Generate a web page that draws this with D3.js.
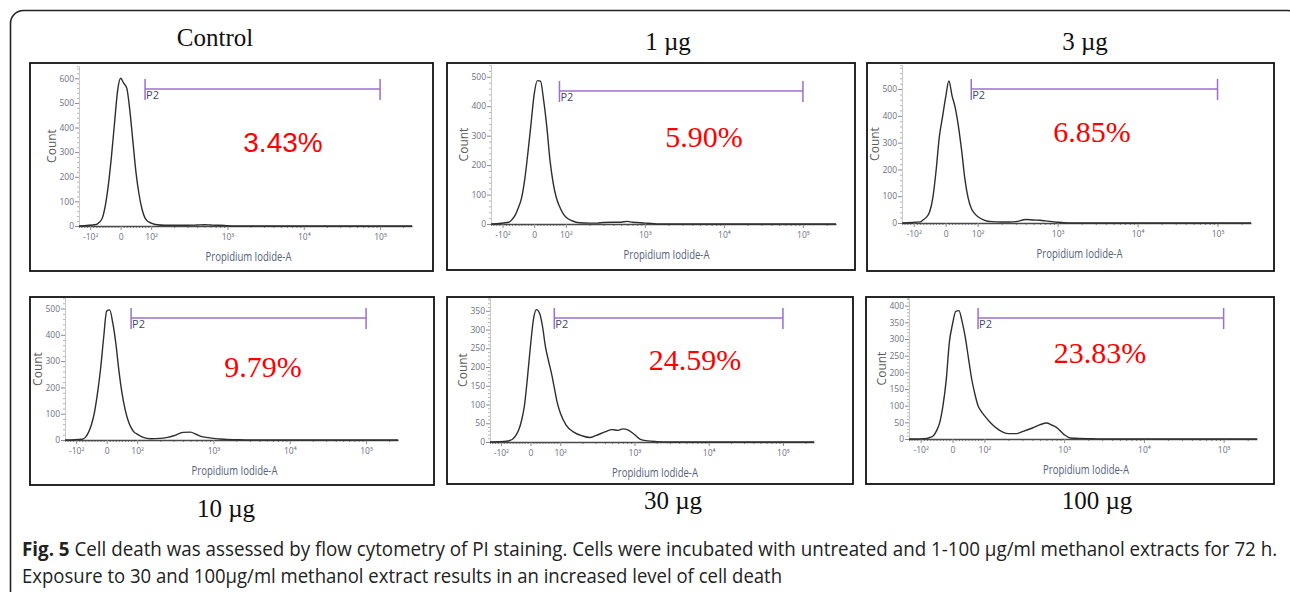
<!DOCTYPE html>
<html>
<head>
<meta charset="utf-8">
<script src="https://cdn.jsdelivr.net/npm/d3@7"></script>
<style>
  html, body { margin: 0; padding: 0; background: #fff; }
  svg { display: block; }
</style>
</head>
<body>
<script>
// ---- data ----
var channels = [-140, -80, -70, -60, -50, -40, -30, -20, -10, 0, 10, 20, 30, 40, 50, 60, 70, 80, 90, 100,
                120, 150, 200, 250, 300, 400, 500, 600, 700, 800, 1000, 1200, 1500, 2000, 3000, 262144];

var countControl = [0, 6, 15, 33, 85, 170, 285, 420, 550, 600, 580, 560, 470, 345, 220, 130, 68, 32, 18, 12,
                    5, 3, 3, 3, 3, 4, 5, 4, 3, 3, 1, 0, 0, 0, 0, 0];
var count1ug = [0, 6, 15, 30, 55, 88, 150, 240, 340, 440, 487, 485, 420, 330, 217, 140, 90, 60, 38, 24,
                11, 4, 3, 3, 5, 6, 6, 9, 6, 5, 3, 2, 0, 0, 0, 0];
var count3ug = [0, 4, 12, 22, 42, 95, 195, 320, 395, 470, 530, 475, 430, 360, 270, 165, 95, 55, 36, 24,
                11, 5, 4, 4, 5, 13, 11, 10, 8, 6, 3, 1, 0, 0, 0, 0];
var count10ug = [0, 3, 10, 28, 58, 105, 178, 270, 388, 490, 495, 445, 368, 265, 180, 118, 75, 47, 30, 22,
                 10, 5, 6, 10, 16, 29, 30, 21, 13, 10, 6, 4, 2, 1, 0, 0];
var count30ug = [0, 2, 4, 8, 17, 32, 58, 100, 175, 258, 328, 353, 344, 310, 255, 218, 185, 145, 105, 78,
                 45, 27, 16, 12, 17, 27, 33, 31, 35, 33, 20, 7, 3, 1, 0, 0];
var count100ug = [0, 2, 5, 10, 25, 50, 100, 175, 290, 345, 383, 385, 352, 305, 242, 180, 135, 100, 83, 70,
                  48, 28, 16, 16, 22, 33, 43, 48, 42, 35, 13, 3, 2, 1, 0, 0];

var panelTitles = ["Control", "1 \u00b5g", "3 \u00b5g", "10 \u00b5g", "30 \u00b5g", "100 \u00b5g"];
var pctLabels = ["3.43%", "5.90%", "6.85%", "9.79%", "24.59%", "23.83%"];
var countMax = [650, 540, 590, 540, 384, 423];
var yTicks = [
  [0, 100, 200, 300, 400, 500, 600],
  [0, 100, 200, 300, 400, 500],
  [0, 100, 200, 300, 400, 500],
  [0, 100, 200, 300, 400, 500],
  [0, 50, 100, 150, 200, 250, 300, 350],
  [0, 50, 100, 150, 200, 250, 300, 350, 400]
];
var xMajorTicks = [-100, 0, 100, 1000, 10000, 100000];
var xTickLabels = ["-10\u00b2", "0", "10\u00b2", "10\u00b3", "10\u2074", "10\u2075"];
var gateRange = [80, 100000];
var gateName = "P2";

var series = [countControl, count1ug, count3ug, count10ug, count30ug, count100ug];

// ---- layout (pixels) ----
var layout = [
  {box: [30, 63, 403, 208],  x0: 79,  x1: 412,  base: 226, top: 66,  gateY: 89,  pct: [283, 152], pctFont: "'Liberation Sans', Arial, sans-serif", pctSize: 28, title: [215, 46]},
  {box: [447, 63, 408, 207], x0: 491, x1: 836,  base: 224, top: 65,  gateY: 91,  pct: [704, 147], pctFont: "'Liberation Serif', 'Times New Roman', serif", pctSize: 30, title: [668, 50]},
  {box: [867, 63, 407, 208], x0: 902, x1: 1251, base: 223, top: 65,  gateY: 89,  pct: [1092, 142], pctFont: "'Liberation Serif', 'Times New Roman', serif", pctSize: 30, title: [1085, 50]},
  {box: [30, 297, 404, 188], x0: 65,  x1: 398,  base: 440, top: 298, gateY: 318, pct: [263, 377], pctFont: "'Liberation Serif', 'Times New Roman', serif", pctSize: 30, title: [226, 517]},
  {box: [447, 297, 406, 187], x0: 490, x1: 814, base: 442, top: 298, gateY: 318, pct: [695, 370], pctFont: "'Liberation Serif', 'Times New Roman', serif", pctSize: 30, title: [673, 509]},
  {box: [866, 297, 408, 187], x0: 909, x1: 1257, base: 439, top: 298, gateY: 318, pct: [1100, 363], pctFont: "'Liberation Serif', 'Times New Roman', serif", pctSize: 30, title: [1097, 509]}
];

var W = 1290, H = 592;
var LIN = 0.4; // width of the linear zone (-100..100) in decades

// biexponential-like transform: linear around zero, log beyond +-100
function fwd(v) {
  var a = Math.abs(v);
  return a <= 100 ? v / 100 * LIN : Math.sign(v) * (LIN + Math.log10(a / 100));
}

function flowScale(r0, r1) {
  var lin = d3.scaleLinear().domain([fwd(channels[0]), fwd(channels[channels.length - 1])]).range([r0, r1]);
  var s = function (v) { return lin(fwd(v)); };
  s.range = function () { return lin.range(); };
  s.domain = function () { return [channels[0], channels[channels.length - 1]]; };
  s.copy = function () { return flowScale(r0, r1); };
  return s;
}

// squeeze a text horizontally to a given width (the figure uses condensed type)
function squeeze(sel, x, width) {
  var len = sel.node().getComputedTextLength();
  var k = width / len;
  sel.attr("transform", "translate(" + x + ",0) scale(" + k + ",1) translate(" + (-x) + ",0)");
}

// minor ticks: every 10 in the linear zone, 2..9 x decade in the log zone
var xMinor = d3.range(-140, 101, 10).filter(function (v) { return xMajorTicks.indexOf(v) < 0; });
[100, 1000, 10000, 100000].forEach(function (d) {
  for (var k = 2; k <= 9; k++) if (d * k <= 262144) xMinor.push(d * k);
});

var svg = d3.select("body").append("svg")
    .attr("width", W)
    .attr("height", H);

// outer frame with rounded corners
svg.append("rect")
    .attr("x", 10.5).attr("y", 10.5)
    .attr("width", 1290).attr("height", 640)
    .attr("rx", 13).attr("ry", 13)
    .style("fill", "none").style("stroke", "#222").style("stroke-width", 1.6);

layout.forEach(function (L, i) {
  var g = svg.append("g");

  // panel box
  g.append("rect")
      .attr("x", L.box[0]).attr("y", L.box[1])
      .attr("width", L.box[2]).attr("height", L.box[3])
      .style("fill", "#fff").style("stroke", "#111").style("stroke-width", 1.8);

  var x = flowScale(L.x0, L.x1);
  var y = d3.scaleLinear().domain([0, countMax[i]]).range([L.base, L.top]);

  // y axis
  var yMinorStep = (yTicks[i][1] - yTicks[i][0]) / 5;
  var yMinor = d3.range(0, countMax[i], yMinorStep).filter(function (v) { return yTicks[i].indexOf(v) < 0; });
  var ya = g.append("g").attr("transform", "translate(" + L.x0 + ",0)")
      .call(d3.axisLeft(y).tickValues(yMinor).tickSize(2).tickFormat(""));
  ya.selectAll("line").style("stroke", "#b5b5b5");
  ya.select(".domain").style("stroke", "#c8c8c8");
  var yb = g.append("g").attr("transform", "translate(" + L.x0 + ",0)")
      .call(d3.axisLeft(y).tickValues(yTicks[i]).tickSize(4).tickPadding(1).tickSizeOuter(0));
  yb.select(".domain").remove();
  yb.selectAll("line").style("stroke", "#8a8a8a");
  yb.selectAll("text")
      .style("font-family", "'Open Sans', sans-serif").style("font-size", "8.5px").style("fill", "#6d7080");

  g.append("text")
      .attr("transform", "translate(" + (L.x0 - 23) + "," + ((L.base + L.top) / 2) + ") rotate(-90)")
      .attr("text-anchor", "middle")
      .style("font-family", "'Open Sans', sans-serif").style("font-size", "12px").style("fill", "#5a5a5a")
      .text("Count");

  // x axis
  var xa = g.append("g").attr("transform", "translate(0," + L.base + ")")
      .call(d3.axisBottom(x).tickValues(xMinor).tickSize(2).tickFormat(""));
  xa.selectAll("line").style("stroke", "#8a8a8a");
  xa.select(".domain").remove();
  var xb = g.append("g").attr("transform", "translate(0," + L.base + ")")
      .call(d3.axisBottom(x).tickValues(xMajorTicks).tickSize(4).tickSizeOuter(0).tickPadding(4)
        .tickFormat(function (d) { return xTickLabels[xMajorTicks.indexOf(d)]; }));
  xb.select(".domain").style("stroke", "#4a4a4a").style("stroke-width", 1.3);
  xb.selectAll("line").style("stroke", "#8a8a8a");
  xb.selectAll("text")
      .style("font-family", "'Open Sans', sans-serif").style("font-size", "8.5px").style("fill", "#6d7080");

  var xcap = g.append("text")
      .attr("x", (L.x0 + L.x1) / 2 + 3).attr("y", L.base + 35)
      .attr("text-anchor", "middle")
      .style("font-family", "'Open Sans', sans-serif").style("font-size", "12px").style("fill", "#56607a")
      .text("Propidium Iodide-A");
  squeeze(xcap, (L.x0 + L.x1) / 2 + 3, 86);

  // histogram
  var pts = channels.map(function (c, k) { return [c, series[i][k]]; });
  var line = d3.line()
      .x(function (d) { return x(d[0]); })
      .y(function (d) { return y(d[1]); })
      .curve(d3.curveMonotoneX);
  g.append("path")
      .attr("d", line(pts))
      .style("fill", "none").style("stroke", "#2e2e2e").style("stroke-width", 1.4);

  // gate
  var gx0 = x(gateRange[0]), gx1 = x(gateRange[1]);
  var gate = g.append("g").style("stroke", "#9a6fcf").style("stroke-width", 1.5);
  gate.append("line").attr("x1", gx0).attr("x2", gx1).attr("y1", L.gateY).attr("y2", L.gateY);
  gate.append("line").attr("x1", gx0).attr("x2", gx0).attr("y1", L.gateY - 10).attr("y2", L.gateY + 11);
  gate.append("line").attr("x1", gx1).attr("x2", gx1).attr("y1", L.gateY - 10).attr("y2", L.gateY + 11);
  g.append("text")
      .attr("x", gx0 + 1).attr("y", L.gateY + 10)
      .style("font-family", "'Open Sans', sans-serif").style("font-size", "11px").style("fill", "#3e4a66")
      .text(gateName);

  // percentage in gate
  g.append("text")
      .attr("x", L.pct[0]).attr("y", L.pct[1])
      .attr("text-anchor", "middle")
      .style("font-family", L.pctFont).style("font-size", L.pctSize + "px").style("fill", "#ff0000")
      .text(pctLabels[i]);

  // panel title
  g.append("text")
      .attr("x", L.title[0]).attr("y", L.title[1])
      .attr("text-anchor", "middle")
      .style("font-family", "'Liberation Serif', 'Times New Roman', serif").style("font-size", "25px").style("fill", "#111")
      .text(panelTitles[i]);
});

// caption
var cap = svg.append("g")
    .style("font-family", "'Open Sans', sans-serif").style("font-size", "20px").style("fill", "#222");
var l1 = cap.append("text").attr("x", 22).attr("y", 556);
l1.append("tspan").style("font-weight", "bold").text("Fig. 5");
l1.append("tspan").text(" Cell death was assessed by flow cytometry of PI staining. Cells were incubated with untreated and 1-100 \u00b5g/ml methanol extracts for 72 h.");
squeeze(l1, 22, 1256);
var l2 = cap.append("text").attr("x", 22).attr("y", 583)
    .text("Exposure to 30 and 100\u00b5g/ml methanol extract results in an increased level of cell death");
squeeze(l2, 22, 761);
</script>
</body>
</html>
